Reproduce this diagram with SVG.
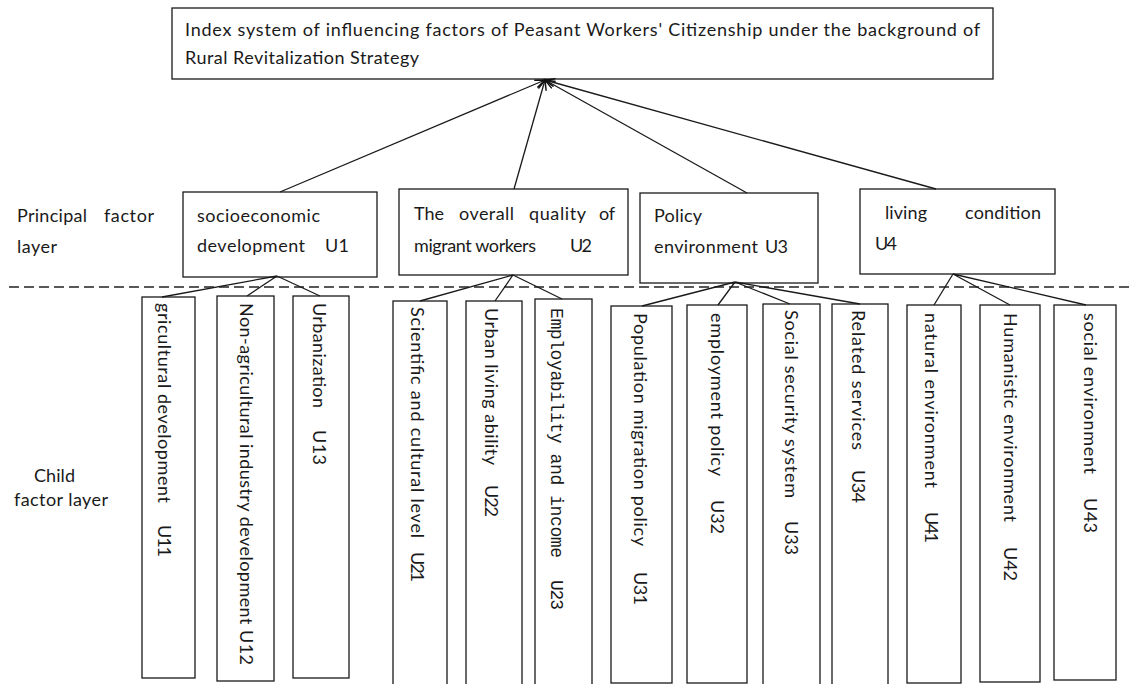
<svg xmlns="http://www.w3.org/2000/svg" width="1132" height="684" viewBox="0 0 1132 684">
<defs>
<style>
.box{fill:#fff;stroke:#1a1a1a;stroke-width:1.3}
.t{font-family:Lato,"Liberation Sans",sans-serif;font-size:18px;fill:#1a1a1a}
.m{font-family:"Liberation Mono","DejaVu Sans Mono",monospace;font-size:18px;fill:#1a1a1a}
.ln{stroke:#1a1a1a;stroke-width:1.3;fill:none}
.dash{stroke:#222;stroke-width:1.5;stroke-dasharray:10 5;fill:none}
</style>
<marker id="ah" markerUnits="userSpaceOnUse" markerWidth="12" markerHeight="12" refX="10" refY="5" orient="auto">
<path d="M0,1 L10,5 L0,9" fill="none" stroke="#111" stroke-width="1.5"/>
</marker>
</defs>
<rect width="1132" height="684" fill="#fff"/>

<g id="root">
<rect class="box" x="172" y="8" width="821" height="71"/>
<text class="t" x="185" y="36" textLength="795" lengthAdjust="spacing">Index system of influencing factors of Peasant Workers' Citizenship under the background of</text>
<text class="t" x="185" y="64" textLength="234" lengthAdjust="spacing">Rural Revitalization Strategy</text>
</g>

<g id="layer-labels">
<text class="t" x="17" y="222" textLength="70" lengthAdjust="spacing">Principal</text>
<text class="t" x="104" y="222" textLength="50" lengthAdjust="spacing">factor</text>
<text class="t" x="17" y="253" textLength="40" lengthAdjust="spacing">layer</text>
<text class="t" x="34" y="482" textLength="41" lengthAdjust="spacing">Child</text>
<text class="t" x="14" y="506" textLength="94" lengthAdjust="spacing">factor layer</text>
</g>

<g id="U1">
<rect class="box" x="183" y="192" width="194" height="85"/>
<text class="t" x="197" y="222" textLength="123" lengthAdjust="spacing">socioeconomic</text>
<text class="t" x="197" y="252" textLength="108" lengthAdjust="spacing">development</text>
<text class="t" x="325" y="252" textLength="24" lengthAdjust="spacing">U1</text>
</g>
<g id="U2">
<rect class="box" x="399" y="189" width="229" height="86"/>
<text class="t" x="414" y="220" textLength="30" lengthAdjust="spacing">The</text>
<text class="t" x="459" y="220" textLength="55" lengthAdjust="spacing">overall</text>
<text class="t" x="529" y="220" textLength="57" lengthAdjust="spacing">quality</text>
<text class="t" x="599" y="220" textLength="16" lengthAdjust="spacing">of</text>
<text class="t" x="414" y="252" textLength="122" lengthAdjust="spacing">migrant workers</text>
<text class="t" x="570" y="252" textLength="22" lengthAdjust="spacing">U2</text>
</g>
<g id="U3">
<rect class="box" x="640" y="193" width="178" height="90"/>
<text class="t" x="654" y="222" textLength="48" lengthAdjust="spacing">Policy</text>
<text class="t" x="654" y="253" textLength="104" lengthAdjust="spacing">environment</text>
<text class="t" x="765" y="253" textLength="23" lengthAdjust="spacing">U3</text>
</g>
<g id="U4">
<rect class="box" x="860" y="189" width="195" height="85"/>
<text class="t" x="885" y="219" textLength="42" lengthAdjust="spacing">living</text>
<text class="t" x="965" y="219" textLength="76" lengthAdjust="spacing">condition</text>
<text class="t" x="875" y="250" textLength="22" lengthAdjust="spacing">U4</text>
</g>

<g id="U11">
<rect class="box" x="142" y="297" width="53" height="381"/>
<text class="t" transform="translate(158,303) rotate(90)" textLength="200" lengthAdjust="spacing">gricultural development</text>
<text class="t" transform="translate(158,525) rotate(90)" textLength="32" lengthAdjust="spacing">U11</text>
</g>
<g id="U12">
<rect class="box" x="217" y="296" width="57" height="385"/>
<text class="t" transform="translate(240,303) rotate(90)" textLength="362" lengthAdjust="spacing">Non-agricultural industry development U12</text>
</g>
<g id="U13">
<rect class="box" x="293" y="296" width="56" height="382"/>
<text class="t" transform="translate(313,303) rotate(90)" textLength="105" lengthAdjust="spacing">Urbanization</text>
<text class="t" transform="translate(313,430) rotate(90)" textLength="35" lengthAdjust="spacing">U13</text>
</g>
<g id="U21">
<rect class="box" x="393" y="301" width="54" height="390"/>
<text class="t" transform="translate(411,307) rotate(90)" textLength="231" lengthAdjust="spacing">Scientific and cultural level</text>
<text class="t" transform="translate(411,552) rotate(90)" textLength="30" lengthAdjust="spacing">U21</text>
</g>
<g id="U22">
<rect class="box" x="466" y="301" width="56" height="390"/>
<text class="t" transform="translate(485,308) rotate(90)" textLength="157" lengthAdjust="spacing">Urban living ability</text>
<text class="t" transform="translate(485,485) rotate(90)" textLength="32" lengthAdjust="spacing">U22</text>
</g>
<g id="U23">
<rect class="box" x="535" y="299" width="57" height="392"/>
<text class="m" transform="translate(551,308) rotate(90)" textLength="250" lengthAdjust="spacing">Employability and income</text>
<text class="m" transform="translate(551,580) rotate(90)" textLength="30" lengthAdjust="spacing">U23</text>
</g>
<g id="U31">
<rect class="box" x="611" y="306" width="61" height="377"/>
<text class="t" transform="translate(634,313) rotate(90)" textLength="233" lengthAdjust="spacing">Population migration policy</text>
<text class="t" transform="translate(634,572) rotate(90)" textLength="33" lengthAdjust="spacing">U31</text>
</g>
<g id="U32">
<rect class="box" x="687" y="305" width="60" height="378"/>
<text class="t" transform="translate(711,313) rotate(90)" textLength="163" lengthAdjust="spacing">employment policy</text>
<text class="t" transform="translate(711,500) rotate(90)" textLength="34" lengthAdjust="spacing">U32</text>
</g>
<g id="U33">
<rect class="box" x="763" y="304" width="57" height="381"/>
<text class="t" transform="translate(785,310) rotate(90)" textLength="188" lengthAdjust="spacing">Social security system</text>
<text class="t" transform="translate(785,521) rotate(90)" textLength="34" lengthAdjust="spacing">U33</text>
</g>
<g id="U34">
<rect class="box" x="832" y="304" width="56" height="381"/>
<text class="t" transform="translate(852,310) rotate(90)" textLength="140" lengthAdjust="spacing">Related services</text>
<text class="t" transform="translate(852,470) rotate(90)" textLength="33" lengthAdjust="spacing">U34</text>
</g>
<g id="U41">
<rect class="box" x="907" y="305" width="54" height="378"/>
<text class="t" transform="translate(925,313) rotate(90)" textLength="175" lengthAdjust="spacing">natural environment</text>
<text class="t" transform="translate(925,512) rotate(90)" textLength="31" lengthAdjust="spacing">U41</text>
</g>
<g id="U42">
<rect class="box" x="980" y="305" width="60" height="377"/>
<text class="t" transform="translate(1004,313) rotate(90)" textLength="209" lengthAdjust="spacing">Humanistic environment</text>
<text class="t" transform="translate(1004,547) rotate(90)" textLength="34" lengthAdjust="spacing">U42</text>
</g>
<g id="U43">
<rect class="box" x="1054" y="305" width="62" height="375"/>
<text class="t" transform="translate(1084,313) rotate(90)" textLength="161" lengthAdjust="spacing">social environment</text>
<text class="t" transform="translate(1084,498) rotate(90)" textLength="35" lengthAdjust="spacing">U43</text>
</g>

<g id="connectors">
<line class="dash" x1="9" y1="287" x2="1132" y2="287"/>
<line class="ln" x1="280" y1="192" x2="545" y2="80" marker-end="url(#ah)"/>
<line class="ln" x1="514" y1="189" x2="545" y2="80" marker-end="url(#ah)"/>
<line class="ln" x1="747" y1="193" x2="545" y2="80" marker-end="url(#ah)"/>
<line class="ln" x1="936" y1="189" x2="545" y2="80" marker-end="url(#ah)"/>
<path class="ln" d="M277,276 L162,297 M277,276 L247,296 M277,276 L320,296"/>
<path class="ln" d="M513,275 L420,301 M513,275 L495,301 M513,275 L562,299"/>
<path class="ln" d="M735,282 L642,306 M735,282 L718,305 M735,282 L790,304 M735,282 L860,304"/>
<path class="ln" d="M953,274 L934,305 M953,274 L1010,305 M953,274 L1086,305"/>
</g>
</svg>
